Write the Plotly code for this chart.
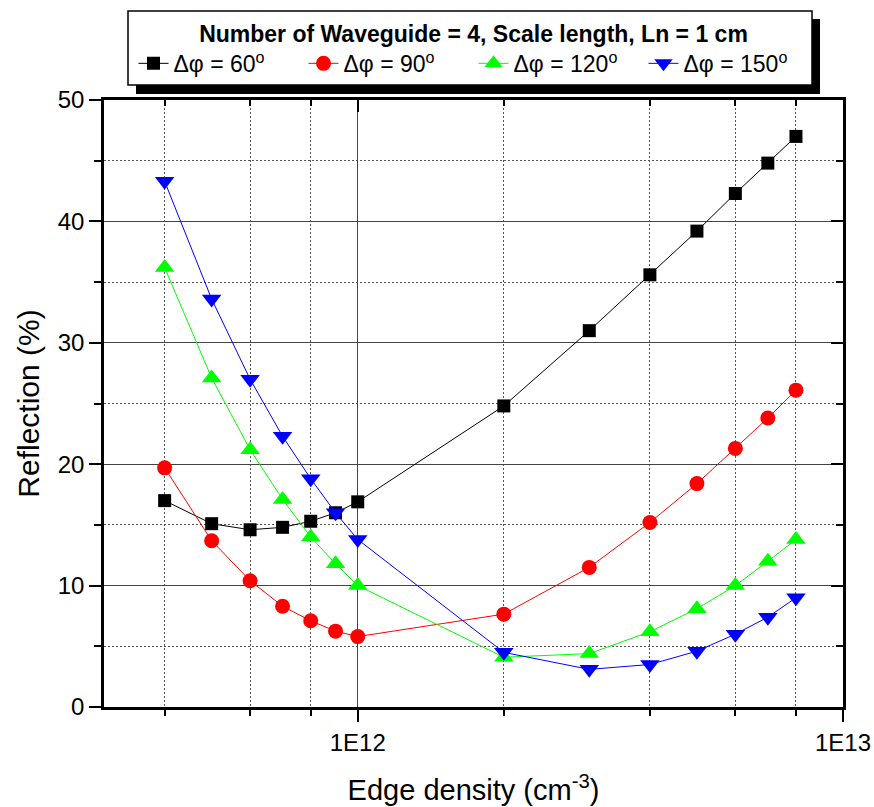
import plotly.graph_objects as go

density = [4e11, 5e11, 6e11, 7e11, 8e11, 9e11, 1e12, 2e12, 3e12, 4e12, 5e12, 6e12, 7e12, 8e12]
refl_60 = [17.0, 15.1, 14.6, 14.8, 15.3, 16.0, 16.9, 24.8, 31.0, 35.6, 39.2, 42.3, 44.8, 47.0]
refl_90 = [19.7, 13.7, 10.4, 8.3, 7.1, 6.25, 5.8, 7.65, 11.5, 15.2, 18.4, 21.3, 23.8, 26.1]
refl_120 = [36.2, 27.1, 21.2, 17.1, 14.0, 11.8, 10.0, 4.1, 4.4, 6.2, 8.1, 10.0, 12.0, 13.8]
refl_150 = [43.3, 33.6, 27.0, 22.3, 18.8, 16.0, 13.8, 4.5, 3.1, 3.5, 4.6, 6.0, 7.4, 9.0]

series_names = ["Δφ = 60<sup>o</sup>", "Δφ = 90<sup>o</sup>", "Δφ = 120<sup>o</sup>", "Δφ = 150<sup>o</sup>"]
series_vals = [refl_60, refl_90, refl_120, refl_150]
colors = ["#000000", "#FF0000", "#00FF00", "#0000FF"]
symbols = ["square", "circle", "triangle-up", "triangle-down"]
sizes = [13, 15, 17, 17]

x_major = [1e12, 1e13]
x_major_text = ["1E12", "1E13"]
x_minor = [4e11, 6e11, 8e11, 2e12, 4e12, 6e12, 8e12]
x_range = [11.4771, 13.0]
y_range = [0, 50]

FONT = "Liberation Sans, Arial, sans-serif"

fig = go.Figure()
for name, vals, c, s, sz in zip(series_names, series_vals, colors, symbols, sizes):
    fig.add_trace(go.Scatter(
        x=density, y=vals, name=name, mode="lines+markers",
        line=dict(color=c, width=1),
        marker=dict(color=c, symbol=s, size=sz, line=dict(width=0)),
    ))

# invisible trace to bind mirror axes
fig.add_trace(go.Scatter(x=[None], y=[None], xaxis="x2", yaxis="y2",
                         showlegend=False, hoverinfo="skip"))

fig.update_layout(
    width=874, height=807,
    margin=dict(l=104, r=31, t=98, b=100),
    paper_bgcolor="white", plot_bgcolor="white",
    font=dict(family=FONT, color="black", size=24),
    showlegend=True,
    legend=dict(
        orientation="h", x=0.5, xanchor="center", y=1.145, yanchor="top",
        bgcolor="rgba(0,0,0,0)", borderwidth=0,
        font=dict(size=23, family=FONT),
        title=dict(text="<b>Number of Waveguide = 4, Scale length, Ln = 1 cm</b>",
                   side="top center", font=dict(size=23, family=FONT)),
        itemwidth=30, tracegroupgap=0,
        entrywidth=125, entrywidthmode="pixels",
    ),
    xaxis=dict(
        type="log", range=x_range,
        tickmode="array", tickvals=x_major, ticktext=x_major_text,
        ticks="outside", ticklen=12, tickwidth=2, tickcolor="black",
        showline=True, linewidth=2.5, linecolor="black", mirror=False,
        showgrid=True, gridcolor="#444444", gridwidth=1,
        zeroline=False,
        tickfont=dict(size=24),
        title=dict(text="Edge density (cm<sup>-3</sup>)", font=dict(size=29), standoff=26),
        minor=dict(tickmode="array", tickvals=x_minor, ticks="outside", ticklen=6,
                   tickwidth=2, tickcolor="black", showgrid=True,
                   gridcolor="#555555", gridwidth=1, griddash="2px,2px"),
        automargin=False,
    ),
    yaxis=dict(
        range=y_range, dtick=10, tick0=0,
        ticks="outside", ticklen=12, tickwidth=2, tickcolor="black",
        showline=True, linewidth=2.5, linecolor="black", mirror=False,
        showgrid=True, gridcolor="#444444", gridwidth=1,
        zeroline=False,
        tickfont=dict(size=24),
        title=dict(text="Reflection (%)", font=dict(size=30), standoff=10),
        minor=dict(dtick=5, ticks="outside", ticklen=7, tickwidth=2, tickcolor="black",
                   showgrid=True, gridcolor="#555555", gridwidth=1, griddash="2px,2px"),
        automargin=False,
    ),
    xaxis2=dict(
        type="log", range=x_range, overlaying="x", side="top", anchor="y",
        tickmode="array", tickvals=x_major, showticklabels=False,
        ticks="inside", ticklen=12, tickwidth=2, tickcolor="black",
        showline=True, linewidth=2.5, linecolor="black",
        showgrid=False, zeroline=False,
        minor=dict(tickmode="array", tickvals=x_minor, ticks="inside", ticklen=6,
                   tickwidth=2, tickcolor="black", showgrid=False),
    ),
    yaxis2=dict(
        range=y_range, dtick=10, tick0=0, overlaying="y", side="right", anchor="x",
        showticklabels=False,
        ticks="inside", ticklen=12, tickwidth=2, tickcolor="black",
        showline=True, linewidth=2.5, linecolor="black",
        showgrid=False, zeroline=False,
        minor=dict(dtick=5, ticks="inside", ticklen=7, tickwidth=2, tickcolor="black",
                   showgrid=False),
    ),
    shapes=[
        # legend shadow
        dict(type="rect", xref="paper", yref="paper", xsizemode="pixel", ysizemode="pixel",
             xanchor=0, yanchor=1, x0=32, x1=716, y0=6, y1=81,
             fillcolor="black", line=dict(width=0), layer="above"),
        # legend box
        dict(type="rect", xref="paper", yref="paper", xsizemode="pixel", ysizemode="pixel",
             xanchor=0, yanchor=1, x0=24, x1=708, y0=15, y1=89,
             fillcolor="white", line=dict(color="black", width=1.5), layer="above"),
    ],
)

fig.write_html("out.html")
